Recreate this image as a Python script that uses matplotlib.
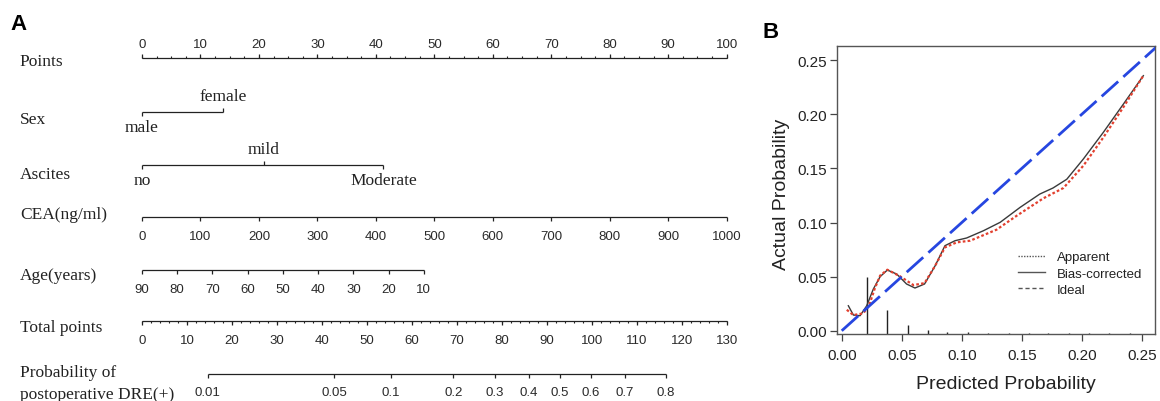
import numpy as np
import matplotlib
matplotlib.use("Agg")
import matplotlib.pyplot as plt
from matplotlib.lines import Line2D
from matplotlib.ticker import FormatStrFormatter

# ---- panel A: nomogram ----
points_ticks = np.arange(0, 101, 10)
points_minor = np.arange(0, 100.1, 2.5)
sex_levels = ["male", "female"]
sex_points = [0, 13.8]
ascites_levels = ["no", "mild", "Moderate"]
ascites_points = [0, 20.8, 41.3]
cea_ticks = np.arange(0, 1001, 100)
cea_max_points = 100.0      # CEA 1000 ng/ml -> 100 points
age_ticks = np.arange(90, 9, -10)
age_max_points = 48.2       # age 10 -> 48.2 points
total_ticks = np.arange(0, 131, 10)
total_minor = np.arange(0, 130.1, 2)
total_max = 130.0
prob_ticks = [0.01, 0.05, 0.1, 0.2, 0.3, 0.4, 0.5, 0.6, 0.7, 0.8]
prob_labels = ["0.01", "0.05", "0.1", "0.2", "0.3", "0.4", "0.5", "0.6", "0.7", "0.8"]
lp_intercept = -5.45
lp_slope = 0.0587

# ---- panel B: calibration curve ----
apparent_x = [0.0042, 0.0097, 0.0180, 0.0230, 0.0275, 0.032, 0.038, 0.0486, 0.0597, 0.069,
              0.0778, 0.086, 0.0958, 0.107, 0.129, 0.1458, 0.168, 0.1847, 0.2013, 0.218,
              0.2347, 0.2513]
apparent_y = [0.0194, 0.0145, 0.0161, 0.024, 0.039, 0.051, 0.0564, 0.0503, 0.0422, 0.044,
              0.060, 0.077, 0.0817, 0.0832, 0.0934, 0.1063, 0.1224, 0.1319, 0.1525, 0.1787,
              0.2067, 0.2357]
bias_x = [0.0055, 0.0097, 0.0153, 0.0208, 0.0263, 0.032, 0.038, 0.0458, 0.054, 0.061, 0.069,
          0.0778, 0.086, 0.0944, 0.104, 0.118, 0.132, 0.1486, 0.165, 0.176, 0.1875, 0.2013,
          0.218, 0.2347, 0.2513]
bias_y = [0.0231, 0.0145, 0.0139, 0.0231, 0.0385, 0.050, 0.0561, 0.0524, 0.0432, 0.0395, 0.0432,
          0.060, 0.0786, 0.0832, 0.0857, 0.0924, 0.1002, 0.114, 0.1263, 0.1319, 0.140, 0.1587,
          0.1834, 0.2095, 0.2357]
ideal = [0.0, 0.27]
spike_x = [0.021, 0.038, 0.055, 0.072, 0.088, 0.105, 0.122, 0.139, 0.156, 0.172, 0.189,
           0.206, 0.223, 0.240]
spike_h = [0.053, 0.0225, 0.0086, 0.004, 0.0016, 0.0014, 0.0012, 0.0012, 0.0012, 0.0012,
           0.0012, 0.0012, 0.0012, 0.0012]
calib_ticks = [0.0, 0.05, 0.10, 0.15, 0.20, 0.25]

LINE = "#222222"
SERIF = "Liberation Serif"
SANS = "Liberation Sans"

fig = plt.figure(figsize=(11.6, 4.02), dpi=100)

# nomogram axes: x in points, y in pixel rows
ax = fig.add_axes([0, 0, 760 / 1160, 1])
ppx = (726.7 - 142) / 100
ax.set_xlim(-142 / ppx, (760 - 142) / ppx)
ax.set_ylim(402, 0)
ax.axis("off")


def scale_row(y, xs, labels, up=False, minor=None):
    ax.hlines(y, min(xs), max(xs), color=LINE, lw=0.9)
    d = -1 if up else 1
    ax.vlines(xs, y, y + d * 4, color=LINE, lw=0.9)
    if minor is not None:
        ax.vlines(minor, y, y + d * 2, color=LINE, lw=0.8)
    for x, t in zip(xs, labels):
        ax.text(x, y + (-14 if up else 19), t, ha="center", va="center",
                fontsize=9.5, family=SANS, color="#2a2a2a")


def cat_row(y, xs, labels):
    ax.hlines(y, min(xs), max(xs), color=LINE, lw=0.9)
    for i, (x, t) in enumerate(zip(xs, labels)):
        d = 1 if i % 2 == 0 else -1
        ax.vlines(x, y, y + d * 4, color=LINE, lw=0.9)
        ax.text(x, y + d * 15.5, t, ha="center", va="center",
                fontsize=12.5, family=SERIF, color=LINE)


def row_label(y, t):
    ax.text(-20.9, y, t, ha="left", va="center", fontsize=12.5, family=SERIF, color=LINE)


row_label(62, "Points")
scale_row(59, points_ticks, [str(v) for v in points_ticks], up=True, minor=points_minor)

row_label(119.5, "Sex")
cat_row(112.7, sex_points, sex_levels)

row_label(175, "Ascites")
cat_row(165.7, ascites_points, ascites_levels)

row_label(215, "CEA(ng/ml)")
scale_row(217.7, cea_ticks * cea_max_points / 1000, [str(v) for v in cea_ticks])

row_label(276, "Age(years)")
scale_row(271, (90 - age_ticks) * age_max_points / 80, [str(v) for v in age_ticks])

row_label(328.3, "Total points")
scale_row(322.3, total_ticks * 100 / total_max, [str(v) for v in total_ticks],
          minor=total_minor * 100 / total_max)

p = np.array(prob_ticks)
prob_tp = (np.log(p / (1 - p)) - lp_intercept) / lp_slope
row_label(373, "Probability of")
row_label(395, "postoperative DRE(+)")
scale_row(374.5, prob_tp * 100 / total_max, prob_labels)

fig.text(10 / 1160, 1 - 25 / 402, "A", fontsize=16, fontweight="bold", family=SANS,
         ha="left", va="center")
fig.text(763 / 1160, 1 - 32 / 402, "B", fontsize=16, fontweight="bold", family=SANS,
         ha="left", va="center")

# calibration axes
axb = fig.add_axes([836.7 / 1160, (402 - 335) / 402, (1155 - 836.7) / 1160, (335 - 46.7) / 402])
axb.set_xlim(-0.0042, 0.261)
axb.set_ylim(-0.003, 0.2634)
ybot = -0.003
axb.vlines(spike_x, ybot, ybot + np.array(spike_h), color=LINE, lw=1.0)
axb.plot(bias_x, bias_y, color="#3a3a3a", lw=1.0)
axb.plot(apparent_x, apparent_y, color="#e2402f", lw=1.6, ls=(0, (1.2, 1.0)))
axb.plot(ideal, ideal, color="#2646e0", lw=2.0, ls=(0, (8, 2.5)), zorder=5)

axb.set_xticks(calib_ticks)
axb.set_yticks(calib_ticks)
axb.xaxis.set_major_formatter(FormatStrFormatter("%.2f"))
axb.yaxis.set_major_formatter(FormatStrFormatter("%.2f"))
axb.tick_params(axis="both", direction="out", length=5, width=0.9, color="#444444",
                labelsize=11, labelcolor=LINE)
axb.tick_params(axis="x", pad=5)
axb.tick_params(axis="y", pad=2)
for lab in axb.get_xticklabels() + axb.get_yticklabels():
    lab.set_family(SANS)
for s in axb.spines.values():
    s.set_color("#555555")
    s.set_linewidth(1.0)

axb.set_xlabel("Predicted Probability", fontsize=14, family=SANS, color=LINE)
axb.xaxis.set_label_coords(0.53, -(385 - 335) / 288.3)
axb.xaxis.label.set_va("center")
axb.set_ylabel("Actual Probability", fontsize=14, family=SANS, color=LINE)
axb.yaxis.set_label_coords((781 - 836.7) / 318.3, 0.487)
axb.yaxis.label.set_va("center")

handles = [Line2D([], [], color="#555555", lw=1.0, ls=(0, (1, 1))),
           Line2D([], [], color="#555555", lw=1.0, ls="-"),
           Line2D([], [], color="#555555", lw=1.0, ls=(0, (3, 2)))]
leg = axb.legend(handles, ["Apparent", "Bias-corrected", "Ideal"], frameon=False,
                 loc="upper left", bbox_to_anchor=(0.55, 0.31), fontsize=9.5,
                 handlelength=2.0, handletextpad=0.9, labelspacing=0.3, borderpad=0)
for t in leg.get_texts():
    t.set_family(SANS)
    t.set_color(LINE)

fig.savefig("out.png", dpi=100)
